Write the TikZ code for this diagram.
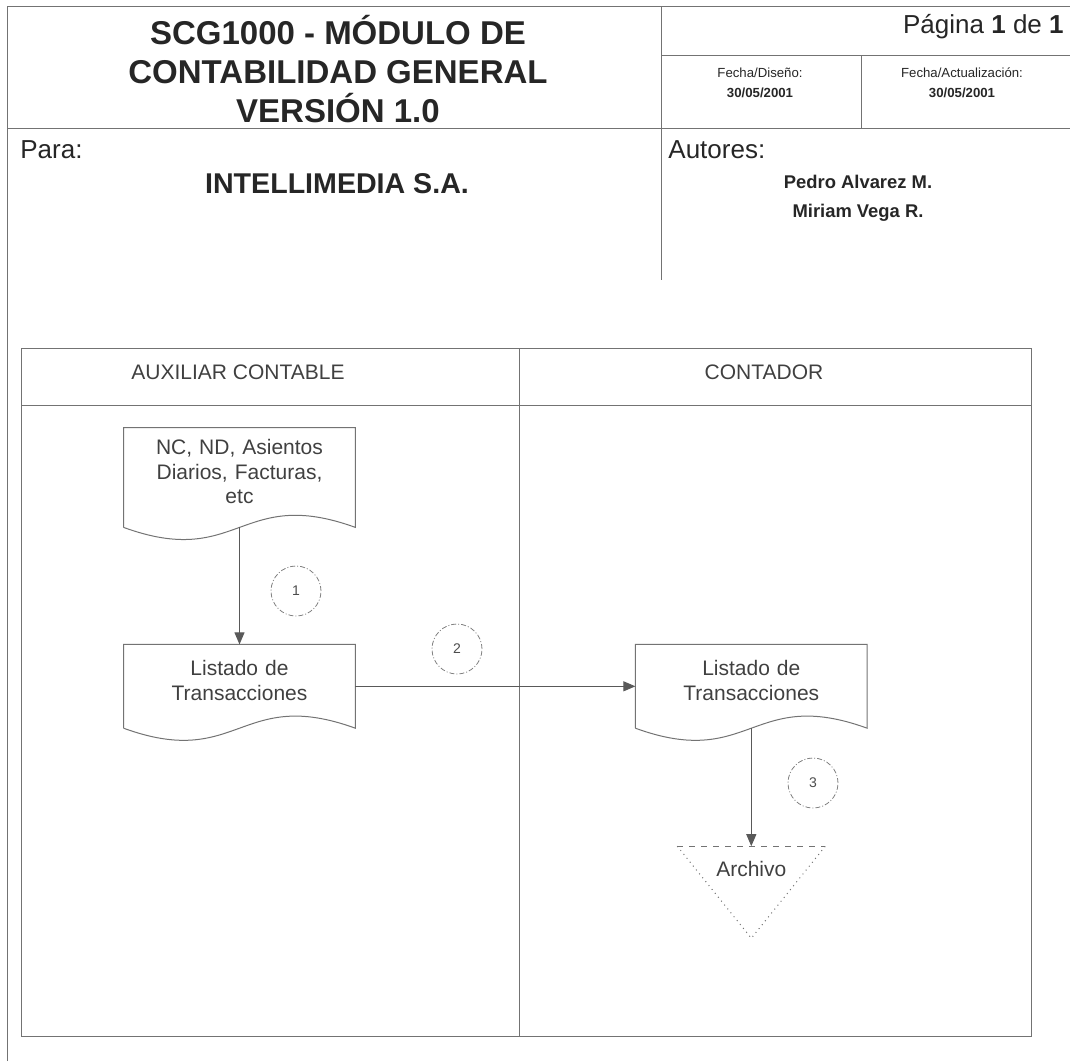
\documentclass[tikz,border=0pt]{standalone}
\usepackage{fontspec}
\setmainfont{Liberation Sans}
\usetikzlibrary{positioning,arrows.meta}

\tikzset{
	lane/.style={draw=black!55, line width=0.5pt},
	hdr/.style={inner sep=0pt, text=black!85},
	docu/.style={minimum width=115.5pt, text width=112pt, align=center, inner sep=0pt, text height=1.7pt, text=black!75, font=\fontsize{10.5}{12.3}\selectfont},
	outl/.style={draw=black!55, line width=0.5pt},
	paso/.style={circle, draw=black!50, line width=0.4pt, dash pattern=on 2.5pt off 1pt on 0.5pt off 1pt, minimum size=25pt, inner sep=0pt, text=black!70, font=\fontsize{7}{8}\selectfont},
	flow/.style={draw=black!65, line width=0.5pt, -{Triangle[length=6pt,width=5pt]}},
}

\begin{document}
\begin{tikzpicture}[x=0.5pt, y=-0.5pt]
	\useasboundingbox (0,0) rectangle (1070,1061);

	% page frame and header
	\draw[lane] (7,1061) -- (7,6) -- (1070,6);
	\draw[lane] (661,6) -- (661,280);
	\draw[lane] (661,55) -- (1070,55);
	\draw[lane] (861,55) -- (861,128);
	\draw[lane] (7,128) -- (1070,128);

	\node[hdr, align=center, font=\bfseries\fontsize{16.5}{19.3}\selectfont] (tit) at (338,69) {SCG1000 - MÓDULO DE\\CONTABILIDAD GENERAL\\VERSIÓN 1.0};
	\node[hdr, anchor=east, font=\fontsize{13}{15}\selectfont] (pag) at (1064,27) {Página \textbf{1} de \textbf{1}};
	\node[hdr, align=center, font=\fontsize{6.6}{10}\selectfont] (fdis) at (760,83) {Fecha/Diseño:\\\textbf{30/05/2001}};
	\node[hdr, align=center, font=\fontsize{6.6}{10}\selectfont] (fact) at (962,83) {Fecha/Actualización:\\\textbf{30/05/2001}};
	\node[hdr, anchor=west, font=\fontsize{13}{15}\selectfont] (para) at (20,150) {Para:};
	\node[hdr, font=\bfseries\fontsize{14.3}{16}\selectfont] (cli) at (337,184) {INTELLIMEDIA S.A.};
	\node[hdr, anchor=west, font=\fontsize{13}{15}\selectfont] (aut) at (668,150) {Autores:};
	\node[hdr, align=center, font=\bfseries\fontsize{9.2}{14.5}\selectfont] (nom) at (858,198) {Pedro Alvarez M.\\Miriam Vega R.};

	% swimlanes
	\draw[lane] (21,348) rectangle (1031,1036);
	\draw[lane] (21,405) -- (1031,405);
	\draw[lane] (519,348) -- (519,1036);
	\node[hdr, text=black!75, font=\fontsize{10.5}{12}\selectfont] (aux) at (238,372) {AUXILIAR CONTABLE};
	\node[hdr, text=black!75, font=\fontsize{10.5}{12}\selectfont] (cont) at (764,372) {CONTADOR};

	% documents
	\node[docu, minimum height=49.5pt] (nc) at (239.5,477.5) {NC, ND, Asientos\\Diarios, Facturas,\\etc};
	\node[docu, minimum height=41.5pt, below=58.5pt of nc] (lista) {Listado de\\Transacciones};
	\node[docu, minimum height=41.5pt, right=140pt of lista] (listb) {Listado de\\Transacciones};

	\foreach \d in {nc,lista,listb}
		\draw[outl] (\d.south west) -- (\d.north west) -- (\d.north east) -- (\d.south east) .. controls +(-115.5,-42) and +(115.5,42) .. (\d.south west);

	% archive
	\path (listb.south) ++(0,118) coordinate (archtop);
	\node[hdr, text=black!75, font=\fontsize{10.5}{12}\selectfont, below=7.5pt of archtop] (arch) {Archivo};
	\draw[outl, dashed] ([xshift=-37pt]archtop) -- ([xshift=37pt]archtop);
	\draw[outl, dotted] ([xshift=-37pt]archtop) -- ([yshift=-46pt]archtop) -- ([xshift=37pt]archtop);

	% steps
	\node[paso] (c1) at (296,591) {1};
	\node[paso] (c2) at (457,649) {2};
	\node[paso] (c3) at (813,783) {3};

	\draw[flow] (nc.south) -- (lista.north);
	\draw[flow] (lista.east) -- (listb.west);
	\draw[flow] (listb.south) -- (archtop);

\end{tikzpicture}
\end{document}
